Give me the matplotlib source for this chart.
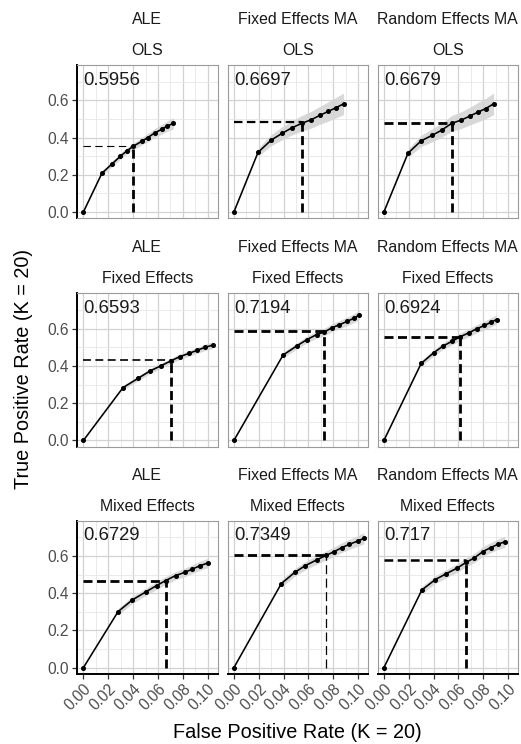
import matplotlib
matplotlib.use("Agg")
import matplotlib.pyplot as plt
from matplotlib.ticker import FixedLocator
import numpy as np

plt.rcParams["font.family"] = ["Liberation Sans", "DejaVu Sans"]
plt.rcParams["lines.scale_dashes"] = False

# facet labels
methods = ["ALE", "Fixed Effects MA", "Random Effects MA"]
models = ["OLS", "Fixed Effects", "Mixed Effects"]
auc_labels = [["0.5956", "0.6697", "0.6679"],
              ["0.6593", "0.7194", "0.6924"],
              ["0.6729", "0.7349", "0.717"]]

# ROC points (FPR, TPR) and ribbon half widths
fpr_ale_ols = [0, 0.0149, 0.0230, 0.0297, 0.0351, 0.040, 0.0468, 0.0519, 0.0575, 0.063, 0.0676, 0.0724]
tpr_ale_ols = [0, 0.208, 0.258, 0.299, 0.329, 0.352, 0.379, 0.400, 0.425, 0.444, 0.462, 0.476]
band_ale_ols = [0, 0.012, 0.015, 0.016, 0.017, 0.018, 0.020, 0.022, 0.024, 0.026, 0.028, 0.030]

fpr_fe_ols = [0, 0.0194, 0.030, 0.0389, 0.0464, 0.0545, 0.0624, 0.0691, 0.0759, 0.0821, 0.0883]
tpr_fe_ols = [0, 0.320, 0.386, 0.423, 0.451, 0.476, 0.496, 0.519, 0.540, 0.560, 0.581]
band_fe_ols = [0, 0.022, 0.030, 0.035, 0.038, 0.042, 0.045, 0.048, 0.052, 0.055, 0.058]

fpr_re_ols = [0, 0.0194, 0.030, 0.0389, 0.0464, 0.0545, 0.0624, 0.0691, 0.0759, 0.0821, 0.0883]
tpr_re_ols = [0, 0.316, 0.382, 0.412, 0.439, 0.476, 0.494, 0.515, 0.537, 0.556, 0.581]
band_re_ols = [0, 0.022, 0.030, 0.035, 0.038, 0.042, 0.045, 0.048, 0.052, 0.055, 0.058]

fpr_ale_fe = [0, 0.0319, 0.0441, 0.0535, 0.0621, 0.0702, 0.0775, 0.0851, 0.0918, 0.0978, 0.104]
tpr_ale_fe = [0, 0.284, 0.334, 0.373, 0.400, 0.427, 0.450, 0.468, 0.485, 0.500, 0.512]
band_ale_fe = [0, 0.012, 0.013, 0.013, 0.014, 0.014, 0.015, 0.015, 0.016, 0.017, 0.018]

fpr_fe_fe = [0, 0.0396, 0.0506, 0.0588, 0.0666, 0.0728, 0.079, 0.085, 0.0912, 0.0971, 0.101]
tpr_fe_fe = [0, 0.459, 0.508, 0.542, 0.569, 0.583, 0.606, 0.622, 0.640, 0.658, 0.676]
band_fe_fe = [0, 0.015, 0.017, 0.018, 0.019, 0.020, 0.021, 0.022, 0.023, 0.024, 0.025]

fpr_re_fe = [0, 0.030, 0.040, 0.0475, 0.0548, 0.061, 0.0683, 0.0746, 0.081, 0.0864, 0.0908]
tpr_re_fe = [0, 0.414, 0.471, 0.507, 0.533, 0.556, 0.578, 0.600, 0.618, 0.636, 0.650]
band_re_fe = [0, 0.015, 0.017, 0.018, 0.019, 0.020, 0.021, 0.022, 0.023, 0.024, 0.025]

fpr_ale_me = [0, 0.0279, 0.0392, 0.050, 0.0589, 0.0662, 0.0743, 0.0816, 0.0878, 0.094, 0.100]
tpr_ale_me = [0, 0.301, 0.363, 0.406, 0.441, 0.468, 0.495, 0.512, 0.530, 0.548, 0.562]
band_ale_me = [0, 0.018, 0.019, 0.020, 0.021, 0.021, 0.022, 0.023, 0.023, 0.024, 0.025]

fpr_fe_me = [0, 0.0382, 0.049, 0.0574, 0.0669, 0.0741, 0.0809, 0.0868, 0.093, 0.0998, 0.1047]
tpr_fe_me = [0, 0.452, 0.512, 0.548, 0.580, 0.603, 0.624, 0.645, 0.663, 0.681, 0.695]
band_fe_me = [0, 0.020, 0.021, 0.022, 0.023, 0.024, 0.025, 0.026, 0.027, 0.028, 0.030]

fpr_re_me = [0, 0.0305, 0.0413, 0.0502, 0.0589, 0.0665, 0.0729, 0.0797, 0.0859, 0.0918, 0.0975]
tpr_re_me = [0, 0.417, 0.473, 0.505, 0.535, 0.567, 0.590, 0.624, 0.645, 0.663, 0.677]
band_re_me = [0, 0.020, 0.021, 0.022, 0.023, 0.024, 0.025, 0.026, 0.027, 0.028, 0.030]

# chosen cutoff (dashed guides)
cut_fpr = [[0.040, 0.0551, 0.0545], [0.0708, 0.0728, 0.061], [0.0662, 0.0741, 0.0665]]
cut_tpr = [[0.352, 0.483, 0.480], [0.430, 0.587, 0.556], [0.468, 0.606, 0.579]]

curves = [[(fpr_ale_ols, tpr_ale_ols, band_ale_ols), (fpr_fe_ols, tpr_fe_ols, band_fe_ols), (fpr_re_ols, tpr_re_ols, band_re_ols)],
          [(fpr_ale_fe, tpr_ale_fe, band_ale_fe), (fpr_fe_fe, tpr_fe_fe, band_fe_fe), (fpr_re_fe, tpr_re_fe, band_re_fe)],
          [(fpr_ale_me, tpr_ale_me, band_ale_me), (fpr_fe_me, tpr_fe_me, band_fe_me), (fpr_re_me, tpr_re_me, band_re_me)]]

# dashed guide widths (horizontal, vertical) per panel
guide_lw = [[(0.8, 2.0), (1.6, 2.0), (2.0, 2.0)],
            [(1.2, 2.0), (2.0, 2.0), (2.0, 2.0)],
            [(2.0, 2.0), (2.0, 0.9), (1.8, 2.0)]]

W, H = 521, 744
fig = plt.figure(figsize=(W / 100, H / 100), dpi=100)

col_left = [77, 227.5, 377.5]
row_top = [65, 293.5, 520.7]
pw, ph = 140.5, 153

for r in range(3):
    for c in range(3):
        ax = fig.add_axes([col_left[c] / W, 1 - (row_top[r] + ph) / H, pw / W, ph / H])
        x, y, hw = (np.array(v) for v in curves[r][c])

        ax.fill_between(x[1:], (y - hw)[1:], (y + hw)[1:], color="#d4d4d4", alpha=0.9, lw=0, zorder=2)
        ax.plot(x, y, color="black", lw=1.15, zorder=3)
        ax.plot(x, y, "o", color="black", ms=2.6, zorder=4)

        hlw, vlw = guide_lw[r][c]
        cx, cy = cut_fpr[r][c], cut_tpr[r][c]
        ax.plot([0, cx], [cy, cy], color="black", lw=hlw, ls=(0, (4.5 + hlw, 3.2)), zorder=3)
        ax.plot([cx, cx], [0, cy], color="black", lw=vlw, ls=(0, (6.5, 3.2)), zorder=3)

        ax.text(0.0, 0.684, auc_labels[r][c], fontsize=13.3, color="#1a1a1a",
                ha="left", va="baseline", zorder=5)

        ax.set_xlim(-0.0052, 0.108)
        ax.set_ylim(-0.033, 0.79)
        ax.xaxis.set_major_locator(FixedLocator([0, 0.02, 0.04, 0.06, 0.08, 0.10]))
        ax.xaxis.set_minor_locator(FixedLocator([0.01, 0.03, 0.05, 0.07, 0.09]))
        ax.yaxis.set_major_locator(FixedLocator([0, 0.2, 0.4, 0.6]))
        ax.yaxis.set_minor_locator(FixedLocator([0.1, 0.3, 0.5, 0.7]))
        ax.grid(which="major", color="#d2d2d2", lw=0.9, zorder=0)
        ax.grid(which="minor", color="#e6e6e6", lw=0.6, zorder=0)
        ax.set_axisbelow(True)

        for s in ax.spines.values():
            s.set_color("#9a9a9a")
            s.set_linewidth(0.8)
        ax.tick_params(which="minor", length=0)
        ax.tick_params(which="major", color="#333333", width=0.9, length=3.5,
                       labelsize=11.2, labelcolor="#4d4d4d", pad=2)

        if c == 0:
            ax.spines["left"].set_color("black")
            ax.spines["left"].set_linewidth(1.4)
            ax.set_yticklabels(["0.0", "0.2", "0.4", "0.6"])
        else:
            ax.tick_params(axis="y", which="major", length=0, labelleft=False)
        if r == 2:
            ax.spines["bottom"].set_color("black")
            ax.spines["bottom"].set_linewidth(1.4)
            ax.set_xticklabels(["0.00", "0.02", "0.04", "0.06", "0.08", "0.10"],
                               rotation=45, ha="right", va="top", rotation_mode="anchor")
        else:
            ax.tick_params(axis="x", which="major", length=0, labelbottom=False)

        # two-line strip labels
        xc = (col_left[c] + pw / 2) / W
        fig.text(xc, 1 - (row_top[r] - 45.5) / H, methods[c], ha="center", va="center",
                 fontsize=11.4, color="#1a1a1a")
        fig.text(xc, 1 - (row_top[r] - 14.7) / H, models[r], ha="center", va="center",
                 fontsize=11.4, color="#1a1a1a")

fig.text(297.5 / W, 1 - 733 / H, "False Positive Rate (K = 20)", ha="center", va="center",
         fontsize=14.3, color="black")
fig.text(24 / W, 1 - 369 / H, "True Positive Rate (K = 20)", ha="center", va="center",
         rotation=90, fontsize=14.3, color="black")

fig.savefig("out.png", dpi=100)
